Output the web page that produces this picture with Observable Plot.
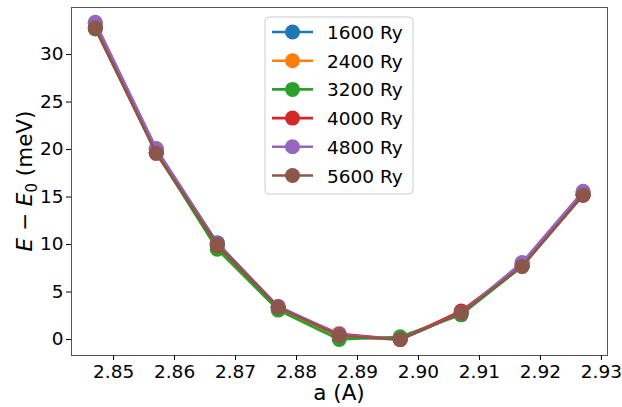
<!DOCTYPE html>
<html><head><meta charset="utf-8">
<script src="https://cdn.jsdelivr.net/npm/d3@7"></script>
<script src="https://cdn.jsdelivr.net/npm/@observablehq/plot@0.6"></script>
<style>body{margin:0;background:#fff;} #chart{width:622px;height:407px;}</style>
</head><body><div id="chart"></div>
<script>
// lattice parameter (A)
const a = [2.847, 2.857, 2.867, 2.877, 2.887, 2.897, 2.907, 2.917, 2.927];
const labels = ["1600 Ry", "2400 Ry", "3200 Ry", "4000 Ry", "4800 Ry", "5600 Ry"];
const colors = ["#1f77b4", "#ff7f0e", "#2ca02c", "#d62728", "#9467bd", "#8c564b"];
const e1600 = [33.3, 20.0, 10.2, 3.4, 0.3, 0.0, 2.8, 8.0, 15.5];
const e2400 = [32.9, 19.6, 9.9, 3.2, 0.3, 0.0, 2.8, 7.8, 15.3];
const e3200 = [32.7, 19.7, 9.5, 3.1, 0.0, 0.3, 2.6, 7.7, 15.3];
const e4000 = [32.8, 19.7, 9.9, 3.4, 0.6, 0.0, 3.0, 7.8, 15.2];
const e4800 = [33.4, 20.1, 10.1, 3.5, 0.5, 0.0, 2.8, 8.1, 15.6];
const e5600 = [32.8, 19.6, 10.0, 3.4, 0.4, 0.0, 2.8, 7.7, 15.2];
const xTicks = [2.85, 2.86, 2.87, 2.88, 2.89, 2.90, 2.91, 2.92, 2.93];
const yTicks = [0, 5, 10, 15, 20, 25, 30];

const values = [e1600, e2400, e3200, e4000, e4800, e5600];
const series = labels.map((label, i) => ({label, rows: a.map((x, j) => ({a: x, e: values[i][j], label}))}));

const W = 622, H = 407, mL = 71, mR = 15, mT = 7, mB = 52;
const chart = Plot.plot({
  width: W, height: H, marginLeft: mL, marginRight: mR, marginTop: mT, marginBottom: mB,
  style: {fontFamily: "DejaVu Sans", fontSize: "18.5px", background: "#fff", color: "#000"},
  x: {domain: [2.8431, 2.9310]},
  y: {domain: [-1.68, 34.95]},
  color: {domain: labels, range: colors},
  marks: [
    ...series.flatMap(s => [
      Plot.line(s.rows, {x: "a", y: "e", stroke: "label", strokeWidth: 2.6}),
      Plot.dot(s.rows, {x: "a", y: "e", fill: "label", r: 7.5})
    ]),
    Plot.frame({stroke: "#555", strokeWidth: 1}),
    Plot.axisX({ticks: xTicks, tickFormat: ".2f", tickSize: 5, tickPadding: 4, label: null, fontSize: 18.5}),
    Plot.axisY({ticks: yTicks, tickSize: 5, tickPadding: 3, label: null, fontSize: 18.5})
  ]
});
document.getElementById("chart").appendChild(chart);

const svg = d3.select(chart);
const ff = "DejaVu Sans";
// x label
svg.append("text").attr("x", (mL + W - mR) / 2).attr("y", 400)
  .attr("text-anchor", "middle").attr("font-family", ff).attr("font-size", 21.5).attr("fill", "#000")
  .text("a (A)");
// y label
const yl = svg.append("text").attr("transform", `translate(32,${(mT + H - mB) / 2}) rotate(-90)`)
  .attr("text-anchor", "middle").attr("font-family", ff).attr("font-size", 21.5).attr("fill", "#000");
yl.append("tspan").attr("font-style", "italic").text("E");
yl.append("tspan").text(" − ");
yl.append("tspan").attr("font-style", "italic").text("E");
yl.append("tspan").attr("font-size", 15).attr("dy", 5).text("0");
yl.append("tspan").attr("dy", -5).text(" (meV)");

// legend
const lg = svg.append("g");
lg.append("rect").attr("x", 265).attr("y", 17).attr("width", 148).attr("height", 177).attr("rx", 4)
  .attr("fill", "#fff").attr("fill-opacity", 0.8).attr("stroke", "#ccc");
labels.forEach((l, i) => {
  const y = 32 + i * 28.7;
  lg.append("line").attr("x1", 272).attr("x2", 313).attr("y1", y).attr("y2", y)
    .attr("stroke", colors[i]).attr("stroke-width", 2.6);
  lg.append("circle").attr("cx", 292.5).attr("cy", y).attr("r", 7.5).attr("fill", colors[i]);
  lg.append("text").attr("x", 327).attr("y", y + 7).attr("text-anchor", "start")
    .attr("font-family", ff).attr("font-size", 18.5).attr("fill", "#000").text(l);
});
</script>
</body></html>
